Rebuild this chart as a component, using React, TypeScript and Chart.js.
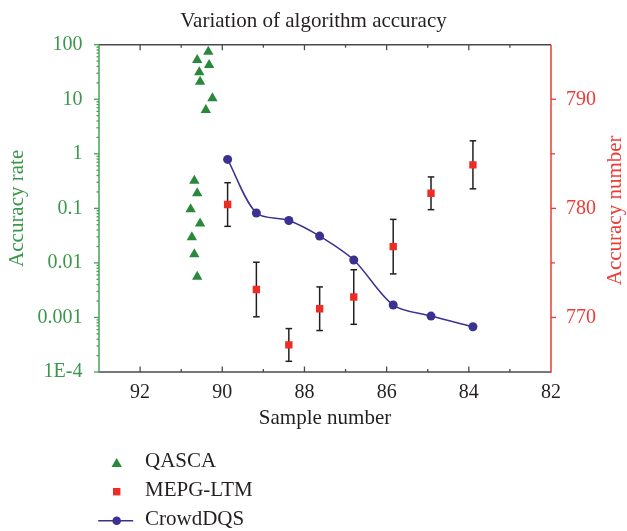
import React, { useEffect, useRef } from 'react';
import { Chart, registerables } from 'chart.js';

Chart.register(...registerables);

// ---- data ----
const qascaX = [90.34, 90.61, 90.32, 90.56, 90.54, 90.24, 90.4, 90.68, 90.61, 90.77, 90.54, 90.74, 90.68, 90.61];
const qascaY = [74.5, 52.5, 42.5, 31.2, 21, 10.4, 6.35, 0.32, 0.189, 0.096, 0.053, 0.0295, 0.0144, 0.0056];
const sampleX = [89.87, 89.17, 88.38, 87.63, 86.8, 85.84, 84.92, 83.9];
const crowdY = [0.79, 0.082, 0.06, 0.031, 0.0113, 0.00169, 0.00106, 0.000676];
const mepgY = [780.35, 772.56, 767.48, 770.8, 771.87, 776.49, 781.38, 783.99];
const mepgErr = [2.0, 2.5, 1.5, 2.0, 2.5, 2.5, 1.5, 2.2];

const xTicks = [92, 90, 88, 86, 84, 82];
const xMinorTicks = [93, 91, 89, 87, 85, 83];
const leftTicks = [1e-4, 1e-3, 1e-2, 0.1, 1, 10, 100];
const leftTickLabels = ['1E-4', '0.001', '0.01', '0.1', '1', '10', '100'];
const rightTicks = [770, 780, 790];
const rightMinorTicks = [775, 785];

const legendLabels = ['QASCA', 'MEPG-LTM', 'CrowdDQS'];

// ---- styles ----
const FONT = "'Liberation Serif', 'Times New Roman', serif";
const GREEN_MARK = '#29893a';
const GREEN_TEXT = '#3c964b';
const GREEN_AXIS = '#47a056';
const RED_MARK = '#ee2c25';
const RED_TEXT = '#ee3b36';
const RED_AXIS = '#ea3c35';
const BLUE = '#3a3190';
const DARK = '#231f20';
const AXIS_DARK = '#4a4a4a';

function line(ctx: CanvasRenderingContext2D, x1: number, y1: number, x2: number, y2: number) {
  ctx.beginPath();
  ctx.moveTo(x1, y1);
  ctx.lineTo(x2, y2);
  ctx.stroke();
}

const errorBarPlugin = {
  id: 'errorBars',
  beforeDatasetsDraw(chart: any) {
    const ctx = chart.ctx as CanvasRenderingContext2D;
    const sx = chart.scales.x;
    const sr = chart.scales.yR;
    ctx.save();
    ctx.strokeStyle = DARK;
    ctx.lineWidth = 1.5;
    for (let i = 0; i < sampleX.length; i++) {
      const px = sx.getPixelForValue(sampleX[i]);
      const y1 = sr.getPixelForValue(mepgY[i] + mepgErr[i]);
      const y2 = sr.getPixelForValue(mepgY[i] - mepgErr[i]);
      line(ctx, px, y1, px, y2);
      line(ctx, px - 3.3, y1, px + 3.3, y1);
      line(ctx, px - 3.3, y2, px + 3.3, y2);
    }
    ctx.restore();
  },
};

const decorPlugin = {
  id: 'decor',
  afterDraw(chart: any) {
    const ctx = chart.ctx as CanvasRenderingContext2D;
    const ca = chart.chartArea;
    const sx = chart.scales.x;
    const sl = chart.scales.yL;
    const sr = chart.scales.yR;
    ctx.save();

    // x ticks (inward) on bottom and top
    ctx.strokeStyle = AXIS_DARK;
    ctx.lineWidth = 1.3;
    for (const v of xTicks) {
      if (v === 82) continue;
      const px = sx.getPixelForValue(v);
      line(ctx, px, ca.bottom, px, ca.bottom - 5.5);
      line(ctx, px, ca.top, px, ca.top + 5.5);
    }
    for (const v of xMinorTicks) {
      if (v === 93) continue;
      const px = sx.getPixelForValue(v);
      line(ctx, px, ca.bottom, px, ca.bottom - 3);
      line(ctx, px, ca.top, px, ca.top + 3);
    }

    // left log ticks (outward)
    ctx.strokeStyle = GREEN_AXIS;
    for (const v of leftTicks) {
      const py = sl.getPixelForValue(v);
      line(ctx, ca.left, py, ca.left - 5, py);
    }
    for (let d = -4; d < 2; d++) {
      for (let k = 2; k < 10; k++) {
        const py = sl.getPixelForValue(k * Math.pow(10, d));
        line(ctx, ca.left, py, ca.left - 2.5, py);
      }
    }

    // right ticks (outward)
    ctx.strokeStyle = RED_AXIS;
    for (const v of rightTicks) {
      const py = sr.getPixelForValue(v);
      line(ctx, ca.right, py, ca.right + 5, py);
    }
    for (const v of rightMinorTicks) {
      const py = sr.getPixelForValue(v);
      line(ctx, ca.right, py, ca.right + 4, py);
    }

    // frame
    ctx.lineWidth = 1.5;
    ctx.strokeStyle = AXIS_DARK;
    line(ctx, ca.left, ca.top, ca.right, ca.top);
    line(ctx, ca.left, ca.bottom, ca.right, ca.bottom);
    ctx.strokeStyle = GREEN_AXIS;
    line(ctx, ca.left, ca.top, ca.left, ca.bottom + 0.75);
    ctx.strokeStyle = RED_AXIS;
    line(ctx, ca.right, ca.top, ca.right, ca.bottom + 0.75);

    // right axis title (reads bottom-to-top)
    ctx.save();
    ctx.translate(615, (ca.top + ca.bottom) / 2 + 2);
    ctx.rotate(-Math.PI / 2);
    ctx.fillStyle = RED_TEXT;
    ctx.font = `21px ${FONT}`;
    ctx.textAlign = 'center';
    ctx.textBaseline = 'middle';
    ctx.fillText('Accuracy number', 0, 0);
    ctx.restore();

    // legend
    const mx = ca.left + 17.7;
    const tx = ca.left + 46;
    const rows = [464, 491.7, 520.7];
    const textRows = [461.5, 490.3, 519];
    // triangle
    ctx.fillStyle = GREEN_MARK;
    const r = 6;
    ctx.beginPath();
    ctx.moveTo(mx, rows[0] - r);
    ctx.lineTo(mx + r * Math.sin((2 * Math.PI) / 3), rows[0] - r * Math.cos((2 * Math.PI) / 3));
    ctx.lineTo(mx - r * Math.sin((2 * Math.PI) / 3), rows[0] - r * Math.cos((2 * Math.PI) / 3));
    ctx.closePath();
    ctx.fill();
    // square
    ctx.fillStyle = RED_MARK;
    ctx.fillRect(mx - 3.7, rows[1] - 3.7, 7.4, 7.4);
    // line + circle
    ctx.strokeStyle = BLUE;
    ctx.lineWidth = 1.5;
    line(ctx, mx - 18.5, rows[2], mx + 16.5, rows[2]);
    ctx.fillStyle = BLUE;
    ctx.beginPath();
    ctx.arc(mx, rows[2], 4.3, 0, Math.PI * 2);
    ctx.fill();
    // texts
    ctx.fillStyle = DARK;
    ctx.font = `21px ${FONT}`;
    ctx.textAlign = 'left';
    ctx.textBaseline = 'middle';
    legendLabels.forEach((t, i) => ctx.fillText(t, tx, textRows[i]));

    ctx.restore();
  },
};

export default function App() {
  const canvasRef = useRef<HTMLCanvasElement | null>(null);

  useEffect(() => {
    document.body.style.margin = '0';
    const canvas = canvasRef.current;
    if (!canvas) return;

    const chart = new Chart(canvas, {
      type: 'scatter',
      data: {
        datasets: [
          {
            label: 'CrowdDQS',
            data: sampleX.map((x, i) => ({ x, y: crowdY[i] })),
            yAxisID: 'yL',
            showLine: true,
            tension: 0.3,
            borderColor: BLUE,
            borderWidth: 1.5,
            pointRadius: 4.5,
            pointBackgroundColor: BLUE,
            pointBorderColor: BLUE,
            pointBorderWidth: 0,
            order: 1,
          },
          {
            label: 'MEPG-LTM',
            data: sampleX.map((x, i) => ({ x, y: mepgY[i] })),
            yAxisID: 'yR',
            pointStyle: 'rect',
            pointRadius: 5.2,
            backgroundColor: RED_MARK,
            borderColor: RED_MARK,
            pointBorderWidth: 0,
            order: 2,
          },
          {
            label: 'QASCA',
            data: qascaX.map((x, i) => ({ x, y: qascaY[i] })),
            yAxisID: 'yL',
            pointStyle: 'triangle',
            pointRadius: 6,
            backgroundColor: GREEN_MARK,
            borderColor: GREEN_MARK,
            pointBorderWidth: 0,
            order: 3,
          },
        ],
      } as any,
      options: {
        responsive: false,
        animation: false,
        events: [],
        layout: { padding: { top: 0, left: 0, right: 0, bottom: 99 } },
        plugins: {
          legend: { display: false },
          tooltip: { enabled: false },
          title: {
            display: true,
            text: 'Variation of algorithm accuracy',
            color: DARK,
            font: { family: FONT, size: 21, weight: 'normal', lineHeight: 1 },
            padding: { top: 10.7, bottom: 13 },
          },
        },
        scales: {
          x: {
            type: 'linear',
            position: 'bottom',
            reverse: true,
            min: 82,
            max: 93,
            afterBuildTicks: (s: any) => {
              s.ticks = xTicks.map((v) => ({ value: v }));
            },
            afterFit: (s: any) => {
              s.height = 60;
            },
            grid: { display: false, drawTicks: false },
            border: { display: false },
            ticks: {
              padding: 9,
              color: DARK,
              autoSkip: false,
              maxRotation: 0,
              font: { family: FONT, size: 20 },
              callback: (v: any) => String(v),
            },
            title: {
              display: true,
              text: 'Sample number',
              color: DARK,
              font: { family: FONT, size: 21 },
              padding: { top: 0, bottom: 0.5 },
            },
          },
          yL: {
            type: 'logarithmic',
            position: 'left',
            min: 1e-4,
            max: 100,
            afterBuildTicks: (s: any) => {
              s.ticks = leftTicks.map((v) => ({ value: v }));
            },
            afterFit: (s: any) => {
              s.width = 99;
            },
            grid: { display: false, drawTicks: false },
            border: { display: false },
            ticks: {
              padding: 16.5,
              color: GREEN_TEXT,
              autoSkip: false,
              font: { family: FONT, size: 20 },
              callback: (v: any) => {
                const idx = leftTicks.findIndex((t) => Math.abs(Math.log10(t) - Math.log10(Number(v))) < 1e-6);
                return idx >= 0 ? leftTickLabels[idx] : '';
              },
            },
            title: {
              display: true,
              text: 'Accuracy rate',
              color: GREEN_TEXT,
              font: { family: FONT, size: 21 },
              padding: { top: 5.3, bottom: 0 },
            },
          },
          yR: {
            type: 'linear',
            position: 'right',
            min: 765,
            max: 795,
            afterBuildTicks: (s: any) => {
              s.ticks = rightTicks.map((v) => ({ value: v }));
            },
            afterFit: (s: any) => {
              s.width = 76;
            },
            grid: { display: false, drawTicks: false },
            border: { display: false },
            ticks: {
              padding: 15,
              color: RED_TEXT,
              autoSkip: false,
              font: { family: FONT, size: 20 },
              callback: (v: any) => String(v),
            },
          },
        },
      } as any,
      plugins: [errorBarPlugin, decorPlugin],
    });

    return () => chart.destroy();
  }, []);

  return (
    <div style={{ width: 627, height: 531 }}>
      <canvas ref={canvasRef} width={627} height={531} style={{ display: 'block' }} />
    </div>
  );
}
